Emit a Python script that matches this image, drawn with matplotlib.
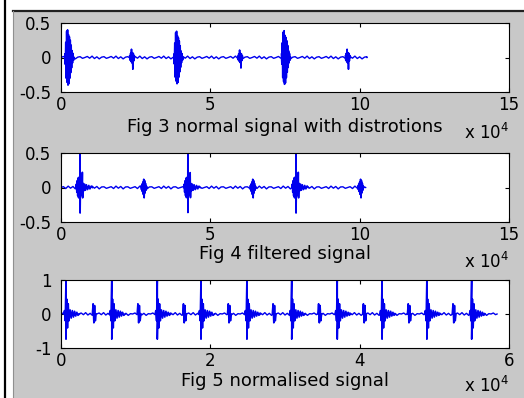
import numpy as np
import matplotlib
matplotlib.use('Agg')
import matplotlib.pyplot as plt
from matplotlib.patches import Rectangle
from matplotlib.lines import Line2D

# ---------------- data ----------------
titles = ['Fig 3 normal signal with distrotions', 'Fig 4 filtered signal', 'Fig 5 normalised signal']
xlims = [(0, 150000), (0, 150000), (0, 60000)]
ylims = [(-0.5, 0.5), (-0.5, 0.5), (-1, 1)]
xticks = [[0, 50000, 100000, 150000], [0, 50000, 100000, 150000], [0, 20000, 40000, 60000]]
xtick_labels = [['0', '5', '10', '15'], ['0', '5', '10', '15'], ['0', '2', '4', '6']]
yticks = [[-0.5, 0, 0.5], [-0.5, 0, 0.5], [-1, 0, 1]]
ytick_labels = [['-0.5', '0', '0.5'], ['-0.5', '0', '0.5'], ['-1', '0', '1']]

# Fig 3: normal signal with distortions
sig3_end = 102500
big3_pos = [2000, 38500, 74500]
big3_scale = [1.0, 0.95, 0.97]
small3_pos = [23800, 60000, 96000]
small3_scale = [1.0, 0.9, 1.0]
big3_dx = [-700, -550, -400, -250, -100, 50, 200, 350, 500, 650, 800, 950, 1100, 1250, 1400, 1550, 1700, 1850, 2000, 2200, 2400]
big3_y = [0.05, -0.1, 0.22, -0.3, 0.38, -0.36, 0.40, -0.40, 0.33, -0.38, 0.3, -0.3, 0.25, -0.22, 0.18, -0.15, 0.1, -0.08, 0.06, -0.04, 0.0]
small3_dx = [-800, -650, -500, -350, -200, -50, 100, 250, 400, 550, 700, 850]
small3_y = [0.02, -0.04, 0.06, -0.06, 0.12, -0.08, 0.07, -0.17, 0.06, -0.05, 0.03, 0.0]
wig3_y = [0.0, 0.015, -0.01, 0.02, -0.015, 0.01, -0.02, 0.005, 0.012, -0.012]

# Fig 4: filtered signal
sig4_end = 102000
big4_pos = [6400, 42500, 78700]
big4_scale = [1.0, 0.98, 1.0]
small4_pos = [27800, 64300, 100400]
small4_scale = [1.0, 1.0, 1.0]
big4_dx = [-1400, -1250, -1100, -950, -800, -650, -500, -350, -200, -50, 0, 0, 150, 300, 450, 600, 750, 850, 1000, 1200, 1500, 1800, 2100, 2500, 2900, 3300, 3700, 4100]
big4_y = [0, 0.05, -0.07, 0.1, -0.12, 0.14, -0.15, 0.15, -0.14, 0.12, 0.9, -0.37, 0.1, -0.12, 0.08, -0.1, 0.22, -0.15, 0.06, -0.05, 0.05, -0.04, 0.04, -0.03, 0.03, -0.02, 0.02, 0]
small4_dx = [-1000, -850, -700, -550, -400, -250, -100, 50, 200, 350, 500, 650, 800, 1000]
small4_y = [0.02, -0.03, 0.05, -0.06, 0.08, -0.1, 0.12, -0.15, 0.1, -0.08, 0.06, -0.04, 0.02, 0]
wig4_y = [0.0, 0.012, -0.015, 0.02, -0.01, 0.015, -0.02, 0.008, 0.01, -0.012]

# Fig 5: normalised signal
sig5_end = 58400
big5_pos = [670, 6800, 12900, 18750, 24900, 30900, 37000, 43000, 49000, 55000]
big5_scale = [1.0, 1.0, 1.0, 1.0, 1.0, 1.0, 1.0, 1.0, 1.0, 1.0]
small5_pos = [4400, 10400, 16500, 22500, 28500, 34600, 40600, 46600, 52600]
small5_scale = [1.0, 1.0, 1.0, 1.0, 1.0, 1.0, 1.0, 1.0, 1.0]
big5_dx = [-300, -200, -100, 0, 0, 100, 200, 300, 400, 550, 700, 850, 1000, 1150, 1300, 1450, 1600, 1800]
big5_y = [0, 0.1, -0.2, 1.05, -0.74, 0.44, -0.41, 0.3, -0.2, 0.12, -0.12, 0.1, -0.09, 0.08, -0.06, 0.05, -0.04, 0]
small5_dx = [-200, -100, 0, 100, 200, 300]
small5_y = [0.0, 0.3, -0.26, 0.25, -0.2, 0]
wig5_y = [0.0, 0.03, -0.02, 0.04, -0.03, 0.02, -0.04, 0.01]

panels = [
    dict(end=sig3_end, big_pos=big3_pos, big_scale=big3_scale, small_pos=small3_pos, small_scale=small3_scale,
         big_dx=big3_dx, big_y=big3_y, small_dx=small3_dx, small_y=small3_y, wig=wig3_y, wstep=800),
    dict(end=sig4_end, big_pos=big4_pos, big_scale=big4_scale, small_pos=small4_pos, small_scale=small4_scale,
         big_dx=big4_dx, big_y=big4_y, small_dx=small4_dx, small_y=small4_y, wig=wig4_y, wstep=800),
    dict(end=sig5_end, big_pos=big5_pos, big_scale=big5_scale, small_pos=small5_pos, small_scale=small5_scale,
         big_dx=big5_dx, big_y=big5_y, small_dx=small5_dx, small_y=small5_y, wig=wig5_y, wstep=300),
]

# ---------------- figure ----------------
W, H = 524, 398
fig = plt.figure(figsize=(W / 100, H / 100), dpi=100, facecolor='white')
fig.patches.append(Rectangle((13 / W, 0), 1 - 13 / W, 1 - 10 / H, transform=fig.transFigure,
                             facecolor='#c8c8c8', edgecolor='none', zorder=-10))
fig.lines.append(Line2D([13 / W, 1], [1 - 11 / H, 1 - 11 / H], transform=fig.transFigure, color='#202020', lw=1.6, zorder=-5))
fig.lines.append(Line2D([13 / W, 13 / W], [0, 1 - 11 / H], transform=fig.transFigure, color='#909090', lw=0.8, zorder=-5))
fig.lines.append(Line2D([5 / W, 5 / W], [0, 1], transform=fig.transFigure, color='black', lw=1.6, zorder=-5))

ax_rects = [(61, 23, 509, 92), (61, 153, 509, 222), (61, 280, 509, 348)]
label_y = [-0.37, -0.34, -0.35]
unit_y = [-0.59, -0.58, -0.56]
line_color = '#0000ee'
font = 'DejaVu Sans'

for i, (rect, p) in enumerate(zip(ax_rects, panels)):
    l, t, r, b = rect
    ax = fig.add_axes([l / W, 1 - b / H, (r - l) / W, (b - t) / H])
    ax.set_zorder(5)
    ax.set_facecolor('white')
    # baseline with small wiggles
    n = int(p['end'] // p['wstep']) + 1
    bx = [k * p['wstep'] for k in range(n)] + [p['end']]
    by = [p['wig'][k % len(p['wig'])] for k in range(n)] + [0.0]
    ax.plot(bx, by, color=line_color, lw=1.0)
    for pos, sc in zip(p['big_pos'], p['big_scale']):
        ax.plot([pos + d for d in p['big_dx']], [sc * v for v in p['big_y']], color=line_color, lw=1.2)
    for pos, sc in zip(p['small_pos'], p['small_scale']):
        ax.plot([pos + d for d in p['small_dx']], [sc * v for v in p['small_y']], color=line_color, lw=1.2)

    ax.set_xlim(*xlims[i])
    ax.set_ylim(*ylims[i])
    ax.set_xticks(xticks[i])
    ax.set_xticklabels(xtick_labels[i], fontfamily=font)
    ax.set_yticks(yticks[i])
    ax.set_yticklabels(ytick_labels[i], fontfamily=font)
    ax.tick_params(direction='in', top=True, right=True, length=3, width=0.8, labelsize=12, colors='black')
    ax.tick_params(axis='x', pad=3)
    ax.tick_params(axis='y', pad=7)
    for s in ax.spines.values():
        s.set_linewidth(0.8)
        s.set_color('black')
    ax.set_xlabel(titles[i], fontsize=13, fontfamily=font)
    ax.xaxis.set_label_coords(0.5, label_y[i])
    ax.text(1.0, unit_y[i], r'x 10$^{4}$', transform=ax.transAxes, ha='right', va='center',
            fontsize=12, fontfamily=font)

fig.savefig('out.png', dpi=100, facecolor=fig.get_facecolor())
